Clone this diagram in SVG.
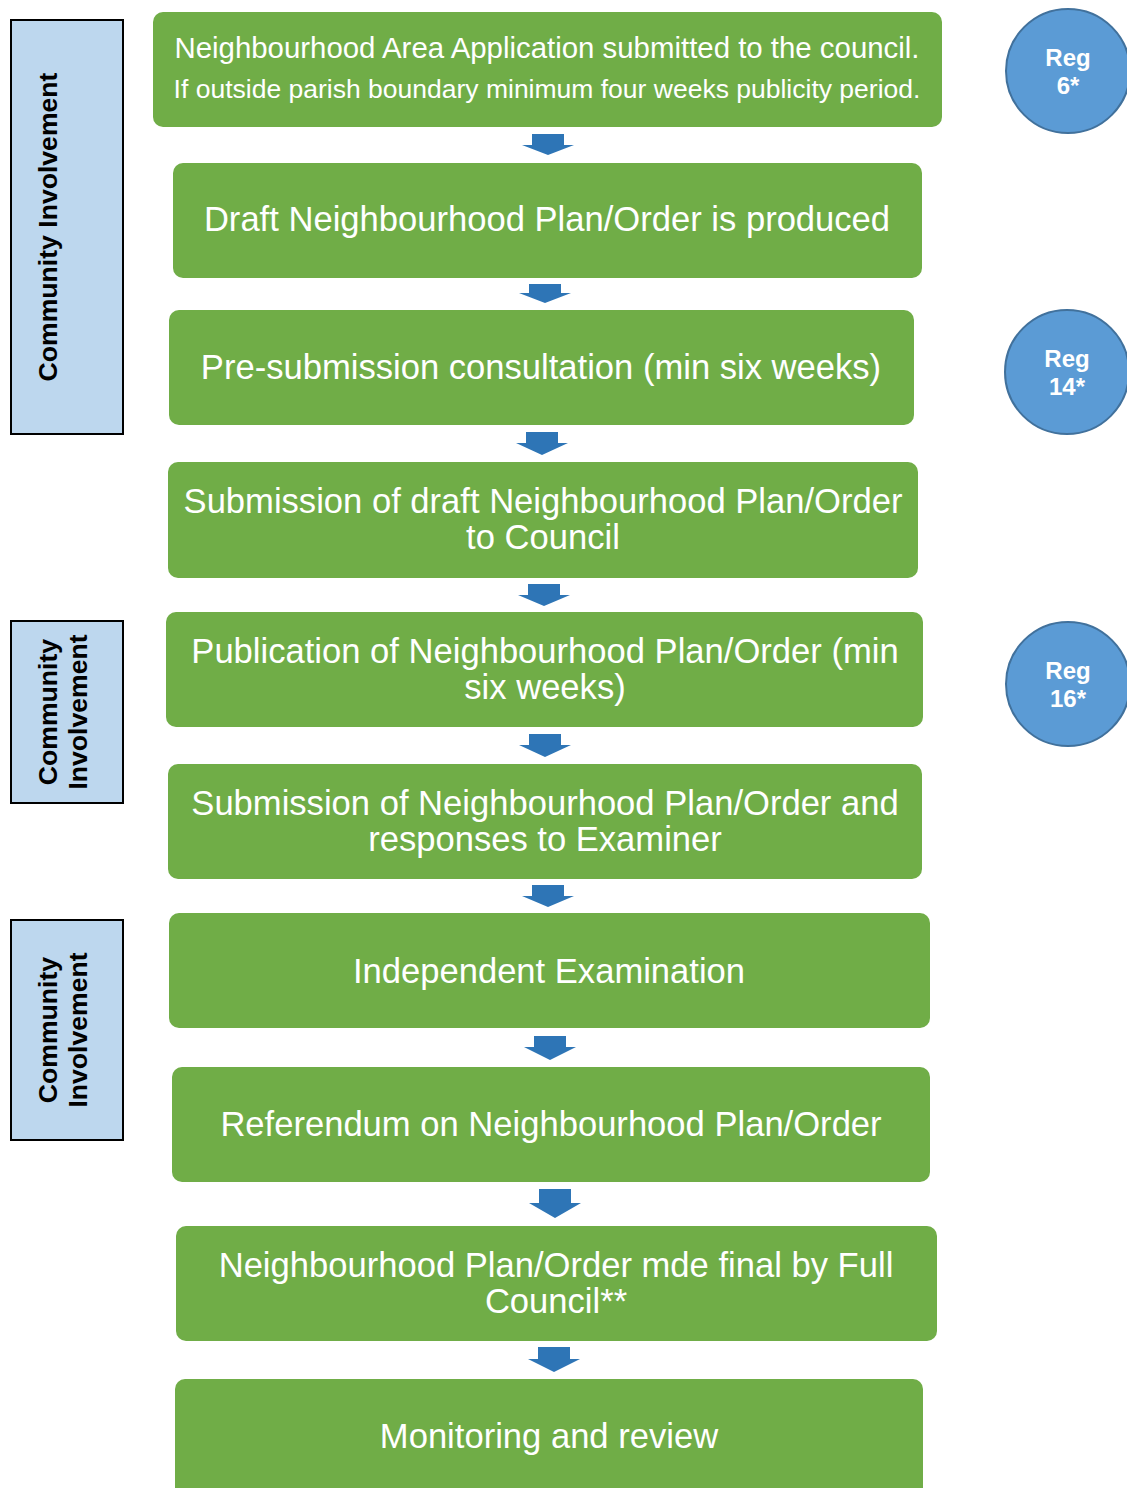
<svg xmlns="http://www.w3.org/2000/svg" width="1127" height="1488" viewBox="0 0 1127 1488">
<style>
.box{fill:#70AD47;}
.t{font-family:"Liberation Sans",Arial,sans-serif;fill:#fff;text-anchor:middle;font-size:34.6px;}
.side{fill:#BDD7EE;stroke:#000;stroke-width:2;}
.st{font-family:"Liberation Sans",Arial,sans-serif;font-weight:bold;font-size:26.6px;fill:#000;text-anchor:middle;}
.reg{fill:#5B9BD5;stroke:#41719C;stroke-width:2;}
.rt{font-family:"Liberation Sans",Arial,sans-serif;font-weight:bold;font-size:24px;fill:#fff;text-anchor:middle;}
.arr{fill:#2E75B6;}
</style>
<rect width="1127" height="1488" fill="#fff"/>
<g id="side1"><rect class="side" x="11" y="20" width="112" height="414"/><text class="st" transform="translate(57,227) rotate(-90)">Community Involvement</text></g>
<g id="side2"><rect class="side" x="11" y="621" width="112" height="182"/><text class="st" transform="translate(57,712) rotate(-90)"><tspan x="0" y="0">Community</tspan><tspan x="0" y="30">Involvement</tspan></text></g>
<g id="side3"><rect class="side" x="11" y="920" width="112" height="220"/><text class="st" transform="translate(57,1030) rotate(-90)"><tspan x="0" y="0">Community</tspan><tspan x="0" y="30">Involvement</tspan></text></g>
<g id="reg6"><circle class="reg" cx="1068" cy="71" r="62"/><text class="rt" x="1068" y="66">Reg</text><text class="rt" x="1068" y="94">6*</text></g>
<g id="reg14"><circle class="reg" cx="1067" cy="372" r="62"/><text class="rt" x="1067" y="367">Reg</text><text class="rt" x="1067" y="395">14*</text></g>
<g id="reg16"><circle class="reg" cx="1068" cy="684" r="62"/><text class="rt" x="1068" y="679">Reg</text><text class="rt" x="1068" y="707">16*</text></g>
<g id="n1"><rect class="box" x="153" y="12" width="789" height="115" rx="10"/><text class="t" x="547" y="58" style="font-size:29.4px">Neighbourhood Area Application submitted to the council.</text><text class="t" x="547" y="98" style="font-size:26.5px">If outside parish boundary minimum four weeks publicity period.</text></g>
<g id="n2"><rect class="box" x="173" y="163" width="749" height="115" rx="10"/><text class="t" x="547" y="231">Draft Neighbourhood Plan/Order is produced</text></g>
<g id="n3"><rect class="box" x="169" y="310" width="745" height="115" rx="10"/><text class="t" x="541" y="379">Pre-submission consultation (min six weeks)</text></g>
<g id="n4"><rect class="box" x="168" y="462" width="750" height="116" rx="10"/><text class="t" x="543" y="513">Submission of draft Neighbourhood Plan/Order</text><text class="t" x="543" y="549">to Council</text></g>
<g id="n5"><rect class="box" x="166" y="612" width="757" height="115" rx="10"/><text class="t" x="545" y="663">Publication of Neighbourhood Plan/Order (min</text><text class="t" x="545" y="699">six weeks)</text></g>
<g id="n6"><rect class="box" x="168" y="764" width="754" height="115" rx="10"/><text class="t" x="545" y="815">Submission of Neighbourhood Plan/Order and</text><text class="t" x="545" y="851">responses to Examiner</text></g>
<g id="n7"><rect class="box" x="169" y="913" width="761" height="115" rx="10"/><text class="t" x="549" y="983">Independent Examination</text></g>
<g id="n8"><rect class="box" x="172" y="1067" width="758" height="115" rx="10"/><text class="t" x="551" y="1136">Referendum on Neighbourhood Plan/Order</text></g>
<g id="n9"><rect class="box" x="176" y="1226" width="761" height="115" rx="10"/><text class="t" x="556" y="1277">Neighbourhood Plan/Order mde final by Full</text><text class="t" x="556" y="1313">Council**</text></g>
<g id="n10"><rect class="box" x="175" y="1379" width="748" height="130" rx="10"/><text class="t" x="549" y="1448">Monitoring and review</text></g>
<g id="connectors">
<path class="arr" d="M532,134 H564 V145 H574 L548,155 L522,145 H532 Z"/>
<path class="arr" d="M529,284 H561 V293 H571 L545,303 L519,293 H529 Z"/>
<path class="arr" d="M526,432 H558 V443 H568 L542,455 L516,443 H526 Z"/>
<path class="arr" d="M528,584 H560 V595 H570 L544,606 L518,595 H528 Z"/>
<path class="arr" d="M529,734 H561 V745 H571 L545,757 L519,745 H529 Z"/>
<path class="arr" d="M532,885 H564 V896 H574 L548,907 L522,896 H532 Z"/>
<path class="arr" d="M534,1036 H566 V1047 H576 L550,1060 L524,1047 H534 Z"/>
<path class="arr" d="M539,1189 H571 V1203 H581 L555,1218 L529,1203 H539 Z"/>
<path class="arr" d="M538,1347 H570 V1359 H580 L554,1372 L528,1359 H538 Z"/>
</g>
</svg>
